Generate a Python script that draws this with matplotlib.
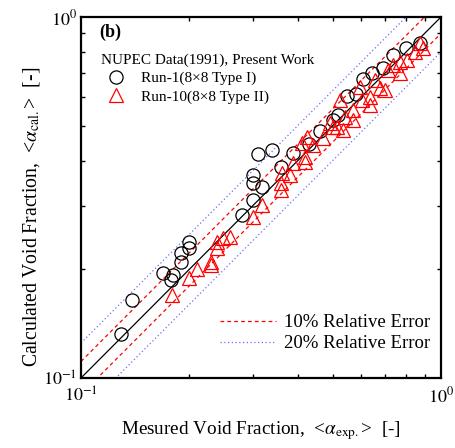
import matplotlib
matplotlib.use("Agg")
import matplotlib.pyplot as plt
import numpy as np
from matplotlib.ticker import LogLocator, NullFormatter, FixedLocator

plt.rcParams.update({
    "font.family": "Liberation Serif",
    "mathtext.fontset": "stix",
    "xtick.direction": "in",
    "ytick.direction": "in",
    "xtick.top": True,
    "ytick.right": True,
})

# Run-1 (8x8 Type I): measured vs calculated void fraction
run1_exp = [0.129, 0.139, 0.169, 0.180, 0.178, 0.190, 0.190, 0.200, 0.200,
            0.280, 0.300, 0.300, 0.300, 0.318, 0.310, 0.339, 0.359, 0.388,
            0.461, 0.518, 0.548, 0.607, 0.643, 0.736, 0.874,
            0.430, 0.500, 0.580, 0.690, 0.800]
run1_cal = [0.132, 0.164, 0.195, 0.193, 0.187, 0.222, 0.210, 0.238, 0.229,
            0.283, 0.311, 0.347, 0.365, 0.338, 0.417, 0.428, 0.384, 0.420,
            0.483, 0.535, 0.604, 0.673, 0.700, 0.785, 0.847,
            0.445, 0.520, 0.610, 0.720, 0.820]

# Run-10 (8x8 Type II)
run10_exp = [0.179, 0.200, 0.210, 0.230, 0.230, 0.239, 0.239, 0.248, 0.259,
             0.300, 0.318, 0.359, 0.359, 0.381, 0.361, 0.419, 0.419, 0.388,
             0.441, 0.411, 0.470, 0.492, 0.514, 0.424, 0.541, 0.569, 0.534,
             0.603, 0.635, 0.596, 0.656, 0.677, 0.713, 0.736, 0.769, 0.804,
             0.847, 0.874, 0.891, 0.769, 0.699, 0.635, 0.569, 0.524, 0.501]
run10_cal = [0.170, 0.189, 0.200, 0.210, 0.206, 0.238, 0.229, 0.244, 0.246,
             0.279, 0.301, 0.332, 0.347, 0.365, 0.370, 0.396, 0.409, 0.394,
             0.442, 0.448, 0.462, 0.509, 0.496, 0.465, 0.528, 0.553, 0.486,
             0.589, 0.600, 0.640, 0.669, 0.636, 0.713, 0.736, 0.750, 0.760,
             0.800, 0.847, 0.820, 0.700, 0.628, 0.570, 0.519, 0.589, 0.496]

err10 = 0.10
err20 = 0.20

fig = plt.figure(figsize=(4.56, 4.48), dpi=100)
ax = fig.add_axes([0.1776, 0.1563, 0.7895, 0.8058])

xx = np.array([0.1, 1.0])
ax.plot(xx, xx, color="black", lw=0.9, zorder=2)
l10, = ax.plot(xx, xx / (1 - err10), color="red", ls=(0, (3, 2.5)), lw=0.9,
               label="10% Relative Error")
ax.plot(xx, xx * (1 - err10), color="red", ls=(0, (3, 2.5)), lw=0.9)
l20, = ax.plot(xx, xx / (1 - err20), color="#6b6bff", ls=(0, (1, 2)), lw=0.9,
               label="20% Relative Error")
ax.plot(xx, xx * (1 - err20), color="#6b6bff", ls=(0, (1, 2)), lw=0.9)

h1, = ax.plot(run1_exp, run1_cal, ls="none", marker="o", ms=9.5, mfc="none",
              mec="black", mew=0.9, label="Run-1(8\u00d78 Type I)", zorder=3)
h2, = ax.plot(run10_exp, run10_cal, ls="none", marker="^", ms=10, mfc="none",
              mec="red", mew=0.9, label="Run-10(8\u00d78 Type II)", zorder=3)

ax.set_xscale("log")
ax.set_yscale("log")
ax.set_xlim(0.1, 1.0)
ax.set_ylim(0.1, 1.0)
for axis in (ax.xaxis, ax.yaxis):
    axis.set_major_locator(FixedLocator([0.1, 1.0]))
    axis.set_minor_locator(LogLocator(base=10, subs=np.arange(2, 10)))
    axis.set_minor_formatter(NullFormatter())
ax.set_xticklabels([r"$10^{-1}$", r"$10^{0}$"])
ax.set_yticklabels([r"$10^{-1}$", r"$10^{0}$"])
ax.tick_params(which="major", length=5, width=1.2, labelsize=13)
ax.tick_params(axis="x", which="major", pad=6)
ax.tick_params(axis="y", which="major", pad=3)
ax.tick_params(which="minor", length=3, width=1.0)
for sp in ax.spines.values():
    sp.set_linewidth(1.6)

ax.set_xlabel(r"Mesured Void Fraction,  <$\alpha_{\mathrm{exp.}}$>  [-]",
              fontsize=13.8)
ax.set_ylabel(r"Calculated Void Fraction,  <$\alpha_{\mathrm{cal.}}$>  [-]",
              fontsize=14.2)
ax.xaxis.set_label_coords(0.5, -0.115)
ax.yaxis.set_label_coords(-0.108, 0.445)

ax.text(0.052, 0.958, "(b)", transform=ax.transAxes, fontsize=13,
        fontweight="bold", va="center", ha="left")

leg1 = ax.legend(handles=[h1, h2], loc="upper left",
                 bbox_to_anchor=(0.03, 0.925),
                 title="NUPEC Data(1991), Present Work", title_fontsize=11,
                 fontsize=11, frameon=False, handletextpad=0.6,
                 borderaxespad=0.2, labelspacing=0.3)
leg1._legend_box.align = "left"
ax.add_artist(leg1)
ax.legend(handles=[l10, l20], loc="lower right", bbox_to_anchor=(1.0, 0.04),
          fontsize=13.5, frameon=False, handlelength=3.0, handletextpad=0.4,
          borderaxespad=0.2, labelspacing=0.2)

fig.savefig("out.png", dpi=100)
